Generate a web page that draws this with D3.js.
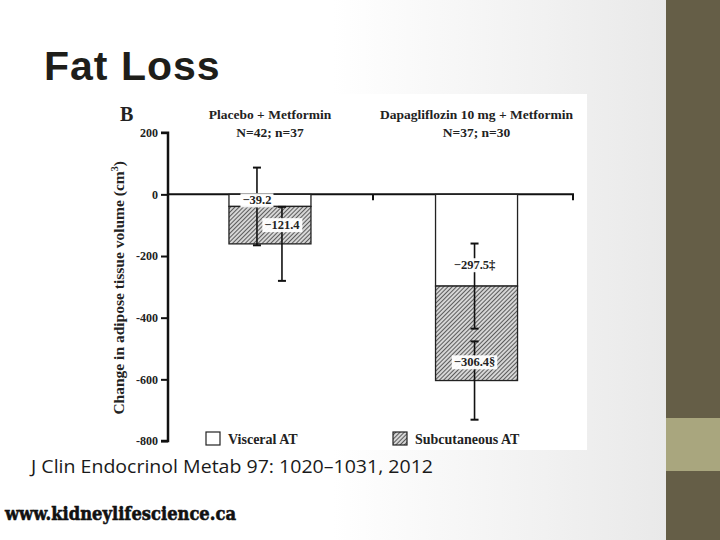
<!DOCTYPE html>
<html><head><meta charset="utf-8">
<script src="https://cdn.jsdelivr.net/npm/d3@7"></script>
<style>body{margin:0;padding:0;background:#fff}svg{display:block}</style>
</head><body>
<svg id="c" width="720" height="540"></svg>
<script>
// ---- data ----
const groups = ["Placebo + Metformin", "Dapagliflozin 10 mg + Metformin"];
const groupN = ["N=42; n=37", "N=37; n=30"];
const visceral = [-39.2, -297.5];
const subcutaneous = [-121.4, -306.4];
const visceralSD = [126, 138];
const subcutaneousSD = [120, 127];
const visceralLabels = ["\u221239.2", "\u2212297.5\u2021"];
const subcutaneousLabels = ["\u2212121.4", "\u2212306.4\u00a7"];
const yTicks = [200, 0, -200, -400, -600, -800];
const legendItems = ["Visceral AT", "Subcutaneous AT"];

const svg = d3.select("#c");
const defs = svg.append("defs");
const grad = defs.append("linearGradient").attr("id","bg").attr("x1","0").attr("x2","1").attr("y1","0").attr("y2","0");
grad.append("stop").attr("offset","0.5").attr("stop-color","#ffffff");
grad.append("stop").attr("offset","1").attr("stop-color","#e9e9e9");
const pat = defs.append("pattern").attr("id","hatch").attr("patternUnits","userSpaceOnUse")
  .attr("width",3).attr("height",3).attr("patternTransform","rotate(45)");
pat.append("rect").attr("width",3).attr("height",3).attr("fill","#d6d6d6");
pat.append("line").attr("x1",0).attr("y1",0).attr("x2",0).attr("y2",3).attr("stroke","#262626").attr("stroke-width",1.4);

// slide background
svg.append("rect").attr("x",0).attr("y",0).attr("width",666).attr("height",540).attr("fill","url(#bg)");
svg.append("rect").attr("x",666).attr("y",0).attr("width",54).attr("height",540).attr("fill","#655e47");
svg.append("rect").attr("x",666).attr("y",418).attr("width",54).attr("height",53).attr("fill","#a9a67e");

// chart image background
svg.append("rect").attr("x",107).attr("y",94).attr("width",480).attr("height",356).attr("fill","#ffffff");

// title
svg.append("text").attr("x",44).attr("y",80).attr("font-family","Liberation Sans, Arial, sans-serif")
  .attr("font-weight","bold").attr("font-size",41).attr("letter-spacing",1).attr("fill","#1e1e1a").text("Fat Loss");

// scales
const y = d3.scaleLinear().domain([-800, 200]).range([441, 132.7]);
const x = d3.scalePoint().domain(groups).range([177, 569.5]).padding(0.45);
const barW = 82;
const serif = "Liberation Serif, Times New Roman, serif";

// y axis
const yAxis = svg.append("g").attr("transform","translate(168,0)")
  .call(d3.axisLeft(y).tickValues(yTicks).tickSize(7).tickPadding(3).tickFormat(d3.format("d")));
yAxis.select(".domain").attr("stroke","#111").attr("stroke-width",2.5).attr("d", `M-7,${y(200)}H0V${y(-800)}H-7`);
yAxis.selectAll(".tick line").attr("stroke","#111").attr("stroke-width",2);
yAxis.selectAll(".tick text").attr("font-family",serif).attr("font-weight","bold").attr("font-size",12).attr("fill","#222")
  .text(d => d < 0 ? "-" + Math.abs(d) : d);

// x axis line at zero
svg.append("path").attr("d",`M168,${y(0)}H573V${y(0)+6}`).attr("stroke","#111").attr("stroke-width",2).attr("fill","none");
svg.append("path").attr("d",`M373,${y(0)}V${y(0)+6}`).attr("stroke","#111").attr("stroke-width",2);

// bars
const gBars = svg.append("g");
groups.forEach((g,i)=>{
  const cx = x(g);
  gBars.append("rect").attr("x",cx-barW/2).attr("width",barW)
    .attr("y",y(0)).attr("height",y(visceral[i])-y(0))
    .attr("fill","#fff").attr("stroke","#222").attr("stroke-width",1.3);
  const top = visceral[i], bot = visceral[i]+subcutaneous[i];
  gBars.append("rect").attr("x",cx-barW/2).attr("width",barW)
    .attr("y",y(top)).attr("height",y(bot)-y(top))
    .attr("fill","url(#hatch)").attr("stroke","#222").attr("stroke-width",1.3);
});

// error bars (layout offsets from bar centre)
const errDx = [[-13, 12], [-2, -2]];
const labelDy = [[0, 0], [25, 29]];
function errBar(cx, mean, sd){
  const g = svg.append("g").attr("stroke","#111").attr("stroke-width",1.6);
  g.append("line").attr("x1",cx).attr("x2",cx).attr("y1",y(mean+sd)).attr("y2",y(mean-sd));
  g.append("line").attr("x1",cx-4).attr("x2",cx+4).attr("y1",y(mean+sd)).attr("y2",y(mean+sd)).attr("stroke-width",2);
  g.append("line").attr("x1",cx-4).attr("x2",cx+4).attr("y1",y(mean-sd)).attr("y2",y(mean-sd)).attr("stroke-width",2);
}
function label(cx, cy, txt){
  const t = svg.append("text").attr("x",cx).attr("y",cy).attr("text-anchor","middle").attr("dominant-baseline","central")
    .attr("font-family",serif).attr("font-weight","bold").attr("font-size",12.5).attr("fill","#222").text(txt);
  const bb = t.node().getBBox();
  svg.insert("rect", () => t.node()).attr("x",bb.x-2).attr("y",bb.y).attr("width",bb.width+4).attr("height",bb.height)
    .attr("fill","#fff").attr("opacity",0.95);
}
groups.forEach((g,i)=>{
  const cx = x(g);
  errBar(cx+errDx[i][0], visceral[i], visceralSD[i]);
  errBar(cx+errDx[i][1], visceral[i]+subcutaneous[i], subcutaneousSD[i]);
});
groups.forEach((g,i)=>{
  const cx = x(g);
  label(cx+errDx[i][0], (y(0)+y(visceral[i]))/2 + labelDy[i][0], visceralLabels[i]);
  label(cx+errDx[i][1], (y(visceral[i])+y(visceral[i]+subcutaneous[i]))/2 + labelDy[i][1], subcutaneousLabels[i]);
});

// headers
groups.forEach((g,i)=>{
  const cx = x(g);
  svg.append("text").attr("x",cx).attr("y",119).attr("text-anchor","middle").attr("font-family",serif)
    .attr("font-weight","bold").attr("font-size",13.5).attr("fill","#222").text(g);
  svg.append("text").attr("x",cx).attr("y",137).attr("text-anchor","middle").attr("font-family",serif)
    .attr("font-weight","bold").attr("font-size",13.5).attr("fill","#222").text(groupN[i]);
});
svg.append("text").attr("x",120).attr("y",121).attr("font-family",serif).attr("font-weight","bold")
  .attr("font-size",20).attr("fill","#222").text("B");

// y label
const yl = svg.append("text").attr("transform",`translate(124,${(y(200)+y(-800))/2+1}) rotate(-90)`)
  .attr("text-anchor","middle").attr("font-family",serif).attr("font-weight","bold").attr("font-size",15.5).attr("fill","#222");
yl.append("tspan").text("Change in adipose tissue volume (cm");
yl.append("tspan").attr("font-size",10).attr("dy",-6).text("3");
yl.append("tspan").attr("dy",6).text(")");

// legend
const legX = [206, 393];
legendItems.forEach((t,i)=>{
  svg.append("rect").attr("x",legX[i]).attr("y",432).attr("width",14).attr("height",13)
    .attr("fill", i===0 ? "#fff" : "url(#hatch)").attr("stroke","#222").attr("stroke-width",1.2);
  svg.append("text").attr("x",legX[i]+22).attr("y",444).attr("font-family",serif).attr("font-weight","bold")
    .attr("font-size",14).attr("fill","#222").text(t);
});

// citation + site
svg.append("text").attr("x",31).attr("y",473).attr("font-family","Open Sans, Liberation Sans, sans-serif")
  .attr("font-size",19).attr("fill","#1a1a1a").attr("textLength",402).attr("lengthAdjust","spacingAndGlyphs")
  .text("J Clin Endocrinol Metab 97: 1020\u20131031, 2012");
svg.append("text").attr("x",5).attr("y",520).attr("font-family","DejaVu Serif, serif").attr("font-weight","bold")
  .attr("font-size",19).attr("fill","#111").attr("textLength",231).attr("lengthAdjust","spacingAndGlyphs")
  .attr("stroke","#111").attr("stroke-width",0.6)
  .text("www.kidneylifescience.ca");
</script>
</body></html>
